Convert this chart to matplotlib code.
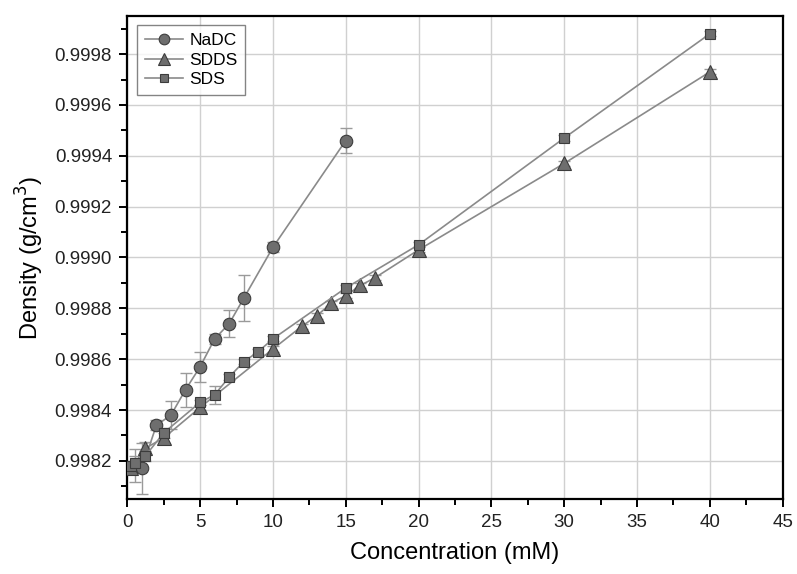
import matplotlib.pyplot as plt
from matplotlib.ticker import FormatStrFormatter, MultipleLocator

plt.rcParams['font.family'] = ['Liberation Sans', 'DejaVu Sans']

# NaDC
nadc_x = [0.5, 1, 2, 3, 4, 5, 6, 7, 8, 10, 15]
nadc_y = [0.99818, 0.99817, 0.99834, 0.99838, 0.99848, 0.99857, 0.99868,
          0.99874, 0.99884, 0.99904, 0.99946]
nadc_err = [0.000065, 0.0001, 0.00002, 0.000054, 0.000067, 0.00006, 0.00002,
            0.000052, 0.00009, 0.00002, 0.00005]

# SDDS
sdds_x = [0.25, 1.25, 2.5, 5, 10, 12, 13, 14, 15, 16, 17, 20, 30, 40]
sdds_y = [0.99817, 0.99825, 0.99829, 0.99841, 0.99864, 0.99873, 0.99877,
          0.99882, 0.99885, 0.99889, 0.99892, 0.99903, 0.99937, 0.99973]
sdds_err = [0.00002, 0.000026, 0.00002, 0.00001, 0.00001, 0.00001, 0.00001,
            0.00001, 0.00001, 0.00001, 0.00001, 0.00001, 0.00001, 0.00001]

# SDS
sds_x = [0.25, 0.5, 1.25, 2.5, 5, 6, 7, 8, 9, 10, 15, 20, 30, 40]
sds_y = [0.99818, 0.99819, 0.99822, 0.99831, 0.99843, 0.99846, 0.99853,
         0.99859, 0.99863, 0.99868, 0.99888, 0.99905, 0.99947, 0.99988]
sds_err = [0.00002, 0.00003, 0.00002, 0.00002, 0.00001, 0.000035, 0.00001,
           0.00001, 0.00001, 0.00001, 0.00001, 0.00001, 0.00001, 0.00001]

fill = '#6e6e6e'
edge = '#3c3c3c'
line = '#8a8a8a'

fig = plt.figure(figsize=(7.97, 5.74), dpi=100)
ax = fig.add_axes([0.1597, 0.1307, 0.8223, 0.8414])

series = [
    (nadc_x, nadc_y, nadc_err, 'o', 9, 'NaDC'),
    (sdds_x, sdds_y, sdds_err, '^', 9.5, 'SDDS'),
    (sds_x, sds_y, sds_err, 's', 7.5, 'SDS'),
]
for xs, ys, es, m, ms, lab in series:
    ax.errorbar(xs, ys, yerr=es, fmt='none', ecolor='#9a9a9a', elinewidth=1,
                capsize=4, capthick=1, zorder=2)
    ax.plot(xs, ys, color=line, linewidth=1.2, marker=m, markersize=ms,
            markerfacecolor=fill, markeredgecolor=edge, markeredgewidth=0.8,
            label=lab, zorder=3)

ax.set_xlim(0, 45)
ax.set_ylim(0.99805, 0.99995)
ax.xaxis.set_major_locator(MultipleLocator(5))
ax.xaxis.set_minor_locator(MultipleLocator(2.5))
ax.yaxis.set_major_locator(MultipleLocator(0.0002))
ax.yaxis.set_minor_locator(MultipleLocator(0.0001))
ax.yaxis.set_major_formatter(FormatStrFormatter('%.4f'))

ax.grid(True, which='major', color='#d0d0d0', linewidth=1, zorder=0)
ax.set_axisbelow(True)
for s in ax.spines.values():
    s.set_linewidth(1.6)
    s.set_color('black')
ax.tick_params(which='both', direction='out', top=False, right=False,
               width=1.4, labelsize=13.5, colors='black', labelcolor='#222222')
ax.tick_params(which='major', length=6, pad=5)
ax.tick_params(which='minor', length=4)

ax.set_xlabel('Concentration (mM)', fontsize=17, labelpad=8)
ax.set_ylabel('Density (g/cm$^3$)', fontsize=17, labelpad=6)

leg = ax.legend(loc='upper left', fontsize=12.5, frameon=True, fancybox=False,
                edgecolor='#666666', handlelength=2.2, borderpad=0.45,
                labelspacing=0.25, handletextpad=0.35, borderaxespad=0,
                bbox_to_anchor=(0.015, 0.981))
leg.get_frame().set_linewidth(1)
for h in leg.legend_handles:
    h.set_markersize(h.get_markersize() * 0.85)

fig.savefig('out.png', dpi=100)
